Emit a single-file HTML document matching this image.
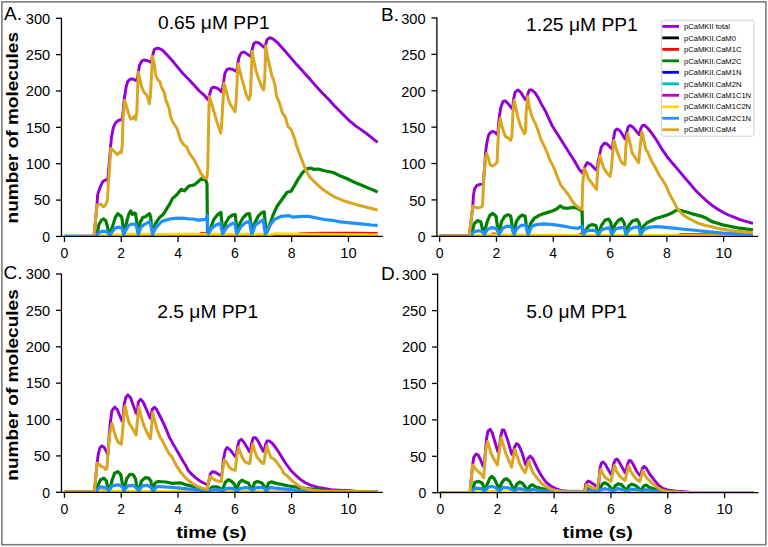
<!DOCTYPE html><html><head><meta charset="utf-8"><style>html,body{margin:0;padding:0;background:#fff;overflow:hidden;width:768px;height:547px;}svg{display:block;}text{font-family:"Liberation Sans",sans-serif;}</style></head><body>
<svg width="768" height="547" viewBox="0 0 768 547">
<rect x="0" y="0" width="768" height="547" fill="#fff"/>
<rect x="1.9" y="1.9" width="764.0" height="542.8" fill="none" stroke="#7c7c7c" stroke-width="1.6"/>
<clipPath id="clipA"><rect x="61.45" y="17.70" width="321.35" height="218.75"/></clipPath>
<g clip-path="url(#clipA)">
<polyline points="64.45,236.45 94.00,236.45 97.00,205.00 97.60,195.10 99.10,190.00 101.10,185.00 103.10,181.10 106.90,179.70 107.80,179.30 109.50,160.00 110.50,147.70 111.60,136.70 113.20,127.90 115.40,123.00 118.20,120.50 120.90,119.70 122.30,119.50 123.30,110.00 124.40,98.00 126.20,86.60 127.90,81.10 130.60,78.90 133.30,79.10 136.10,80.50 137.20,80.80 138.30,72.30 139.40,65.70 141.60,61.30 143.80,60.00 147.10,60.50 150.30,61.90 151.30,62.30 152.50,55.80 154.20,49.80 156.20,48.50 158.20,48.20 162.10,49.90 166.50,54.30 171.90,60.30 177.40,66.90 182.90,73.50 188.40,79.00 193.90,85.00 199.40,91.00 204.40,95.40 207.70,99.50 209.30,96.00 209.90,93.20 211.50,88.20 213.70,87.10 216.50,87.80 219.70,90.00 221.50,91.80 222.50,88.00 223.60,82.70 224.70,73.90 226.90,69.50 229.60,68.60 232.90,69.50 235.70,71.10 236.70,71.60 237.90,62.90 239.00,57.40 241.10,53.00 243.90,51.90 247.20,54.10 250.50,56.30 251.20,56.50 252.10,49.70 253.80,43.70 256.00,42.10 259.20,43.20 263.60,47.00 264.60,47.60 265.80,44.30 266.90,39.90 269.70,37.70 273.00,38.80 277.40,42.60 283.90,49.70 290.50,57.40 297.10,65.10 303.70,72.20 309.20,78.30 312.00,81.60 317.50,87.70 323.00,93.70 328.50,99.20 333.90,105.20 339.40,110.70 344.90,116.20 350.40,121.70 355.90,126.10 361.40,129.90 366.90,133.80 372.30,138.20 377.60,142.30" fill="none" stroke="#9400D3" stroke-width="2.9" stroke-linejoin="round" stroke-linecap="butt"/>
<polyline points="64.45,236.45 198.00,236.45 201.00,233.50 206.50,233.50 208.00,236.20 290.00,236.00 301.00,233.60 324.50,233.10 350.00,233.30 377.60,233.40" fill="none" stroke="#FF0000" stroke-width="2.9" stroke-linejoin="round" stroke-linecap="butt"/>
<polyline points="64.45,236.45 97.00,236.20 97.60,231.30 99.00,224.30 101.40,220.20 103.70,219.00 105.80,220.80 107.20,225.50 108.70,232.50 109.60,234.80 111.90,228.40 113.70,222.60 115.40,217.30 117.70,213.60 120.10,215.50 121.70,216.90 122.70,223.50 123.60,233.30 124.20,233.50 125.50,228.40 127.20,219.60 129.00,213.80 130.70,210.90 132.50,214.40 134.30,213.20 135.50,213.40 136.70,221.60 137.90,231.00 138.30,231.50 140.50,221.60 142.90,217.30 145.40,216.70 147.90,214.80 149.50,213.60 150.70,217.30 151.60,227.90 152.90,231.60 155.40,223.50 157.90,219.80 160.30,216.70 162.80,214.80 165.30,211.10 168.00,206.70 169.50,204.50 172.40,198.60 176.80,194.70 181.20,189.30 184.50,190.90 188.90,186.00 194.40,184.90 198.80,181.00 202.10,178.30 205.30,179.40 207.00,183.80 207.50,235.00 208.50,234.00 210.50,228.30 213.80,219.50 217.10,215.10 220.90,212.40 222.00,223.90 223.10,233.80 225.80,222.80 229.10,217.30 232.40,215.10 235.20,214.60 236.30,223.90 237.40,233.80 240.10,222.80 243.40,217.30 246.70,214.00 249.40,213.50 251.10,223.90 252.20,233.80 254.90,222.80 258.20,216.20 261.50,212.90 264.20,211.80 265.30,223.90 266.40,233.80 270.80,221.70 273.10,215.00 277.10,206.20 282.10,199.20 287.10,192.20 291.10,191.20 294.20,186.10 298.20,179.10 302.20,173.10 306.20,169.00 310.20,168.10 314.30,169.40 318.30,169.00 322.00,170.10 324.70,170.80 333.30,172.50 340.50,176.10 347.80,179.00 355.00,182.60 362.20,185.50 369.40,188.40 377.60,192.00" fill="none" stroke="#008000" stroke-width="3.2" stroke-linejoin="round" stroke-linecap="butt"/>
<polyline points="64.45,236.45 160.00,236.45 180.00,235.40 205.00,235.40 208.00,236.45 270.00,236.45 280.00,235.30 330.00,235.40 377.60,235.70" fill="none" stroke="#BF00BF" stroke-width="2.9" stroke-linejoin="round" stroke-linecap="butt"/>
<polyline points="64.45,236.45 97.00,236.45 100.00,235.30 106.00,235.30 108.50,236.40 111.00,235.00 121.00,235.00 123.50,236.40 126.00,234.30 136.00,234.30 138.00,236.00 141.00,234.30 151.00,234.30 153.00,236.00 156.00,234.50 180.00,234.20 206.00,234.20 208.00,236.00 211.00,234.30 221.00,234.30 223.00,236.00 226.00,234.30 236.00,234.30 238.00,236.00 241.00,234.30 251.00,234.30 253.00,236.00 256.00,234.30 266.00,234.30 268.00,236.00 274.50,233.60 308.90,234.10 340.00,234.40 377.60,234.70" fill="none" stroke="#FFD700" stroke-width="2.9" stroke-linejoin="round" stroke-linecap="butt"/>
<polyline points="64.45,236.45 96.50,236.45 97.30,234.30 99.00,232.50 102.50,231.30 106.00,231.30 108.40,233.10 110.10,234.80 112.50,231.30 115.40,227.80 119.50,227.20 121.40,227.80 122.60,229.60 123.70,234.50 126.10,229.60 128.40,225.50 131.30,224.30 135.40,224.00 136.80,227.90 138.30,234.70 140.50,227.90 143.60,224.80 147.30,222.90 149.50,221.60 151.00,225.40 152.60,234.70 154.80,229.10 157.90,225.40 161.70,221.50 165.60,220.20 170.30,218.80 175.00,218.40 181.25,218.10 185.20,218.40 189.10,219.00 193.75,219.00 198.40,220.10 203.10,219.70 206.25,218.90 207.20,215.50 207.30,220.00 208.30,233.80 211.60,228.30 216.00,225.00 220.40,223.30 222.60,233.80 226.90,227.20 231.30,223.90 234.60,222.80 236.80,233.80 241.20,226.10 245.60,222.80 249.40,221.10 251.60,233.80 255.50,225.00 259.90,221.70 263.20,220.00 265.30,233.80 269.70,225.50 274.50,219.50 280.80,216.40 288.60,215.60 293.30,217.20 301.10,216.40 308.90,216.40 316.70,218.00 324.50,219.50 332.30,220.30 340.10,221.90 347.90,222.70 355.80,223.40 363.60,224.20 371.40,225.00 377.60,225.30" fill="none" stroke="#1E90FF" stroke-width="3.2" stroke-linejoin="round" stroke-linecap="butt"/>
<polyline points="64.45,236.45 94.00,236.45 97.00,205.00 98.60,204.60 101.10,204.10 103.10,206.60 105.10,205.60 106.60,202.60 107.50,200.00 108.30,185.00 110.80,148.60 112.90,150.00 115.00,152.30 117.50,154.50 119.70,152.20 121.30,152.60 122.30,145.00 123.10,117.00 124.80,100.50 126.40,106.00 128.60,113.70 130.80,119.10 132.40,118.60 134.10,116.40 135.70,119.70 136.80,111.50 138.30,72.30 139.90,78.90 141.60,86.60 143.80,92.00 146.00,94.20 147.20,96.00 149.40,103.80 150.50,95.00 152.50,56.40 154.20,63.50 155.80,75.60 157.50,78.90 159.90,81.70 161.50,87.20 164.30,92.70 165.50,99.10 169.10,108.30 170.50,116.50 172.80,122.00 177.40,129.30 180.40,139.90 184.30,145.40 186.50,146.50 189.20,153.00 194.10,159.60 197.40,166.20 200.70,172.80 204.00,177.70 206.80,178.30 207.70,170.00 208.60,125.00 209.30,96.50 212.10,105.20 214.30,112.90 216.50,120.60 218.70,127.20 220.80,133.20 221.60,125.00 224.10,83.30 226.30,91.00 228.50,99.70 230.70,105.20 232.90,108.50 235.10,111.80 236.20,100.00 237.90,64.00 239.50,69.50 241.70,78.30 243.90,86.00 246.10,94.30 248.80,99.70 250.50,95.00 252.10,51.40 253.80,60.70 256.00,70.60 258.20,77.20 260.90,84.90 262.50,88.20 263.60,90.00 264.70,80.00 265.80,45.90 267.50,56.30 269.70,66.20 271.90,76.10 273.50,79.40 274.90,85.00 276.50,96.00 279.30,102.60 282.60,113.50 285.30,116.80 288.00,126.70 290.80,128.90 293.50,135.50 295.10,140.00 296.30,145.00 298.70,151.60 301.20,158.00 303.00,163.10 306.60,171.80 310.20,177.60 316.00,183.30 323.20,189.80 333.30,196.30 343.40,200.70 355.00,204.30 366.50,207.20 377.60,210.00" fill="none" stroke="#DAA520" stroke-width="3.0" stroke-linejoin="round" stroke-linecap="butt"/>
</g>
<path d="M61.45,17.70 V236.45 M60.85,236.45 H382.80" stroke="#000" stroke-width="1.3" fill="none"/>
<path d="M55.95,236.45 H61.45" stroke="#000" stroke-width="1.3"/>
<text x="50.15" y="241.75" font-family="Liberation Sans, sans-serif" font-size="14" text-anchor="end" fill="#000">0</text>
<path d="M55.95,200.09 H61.45" stroke="#000" stroke-width="1.3"/>
<text x="50.15" y="205.39" font-family="Liberation Sans, sans-serif" font-size="14" text-anchor="end" textLength="16.4" lengthAdjust="spacingAndGlyphs" fill="#000">50</text>
<path d="M55.95,163.73 H61.45" stroke="#000" stroke-width="1.3"/>
<text x="50.15" y="169.03" font-family="Liberation Sans, sans-serif" font-size="14" text-anchor="end" textLength="24.4" lengthAdjust="spacingAndGlyphs" fill="#000">100</text>
<path d="M55.95,127.37 H61.45" stroke="#000" stroke-width="1.3"/>
<text x="50.15" y="132.67" font-family="Liberation Sans, sans-serif" font-size="14" text-anchor="end" textLength="24.4" lengthAdjust="spacingAndGlyphs" fill="#000">150</text>
<path d="M55.95,91.01 H61.45" stroke="#000" stroke-width="1.3"/>
<text x="50.15" y="96.31" font-family="Liberation Sans, sans-serif" font-size="14" text-anchor="end" textLength="24.4" lengthAdjust="spacingAndGlyphs" fill="#000">200</text>
<path d="M55.95,54.65 H61.45" stroke="#000" stroke-width="1.3"/>
<text x="50.15" y="59.95" font-family="Liberation Sans, sans-serif" font-size="14" text-anchor="end" textLength="24.4" lengthAdjust="spacingAndGlyphs" fill="#000">250</text>
<path d="M55.95,18.29 H61.45" stroke="#000" stroke-width="1.3"/>
<text x="50.15" y="23.59" font-family="Liberation Sans, sans-serif" font-size="14" text-anchor="end" textLength="24.4" lengthAdjust="spacingAndGlyphs" fill="#000">300</text>
<path d="M64.45,236.45 V241.95" stroke="#000" stroke-width="1.3"/>
<text x="64.45" y="257.75" font-family="Liberation Sans, sans-serif" font-size="14" text-anchor="middle" fill="#000">0</text>
<path d="M121.25,236.45 V241.95" stroke="#000" stroke-width="1.3"/>
<text x="121.25" y="257.75" font-family="Liberation Sans, sans-serif" font-size="14" text-anchor="middle" fill="#000">2</text>
<path d="M178.05,236.45 V241.95" stroke="#000" stroke-width="1.3"/>
<text x="178.05" y="257.75" font-family="Liberation Sans, sans-serif" font-size="14" text-anchor="middle" fill="#000">4</text>
<path d="M234.85,236.45 V241.95" stroke="#000" stroke-width="1.3"/>
<text x="234.85" y="257.75" font-family="Liberation Sans, sans-serif" font-size="14" text-anchor="middle" fill="#000">6</text>
<path d="M291.65,236.45 V241.95" stroke="#000" stroke-width="1.3"/>
<text x="291.65" y="257.75" font-family="Liberation Sans, sans-serif" font-size="14" text-anchor="middle" fill="#000">8</text>
<path d="M348.45,236.45 V241.95" stroke="#000" stroke-width="1.3"/>
<text x="348.45" y="257.75" font-family="Liberation Sans, sans-serif" font-size="14" text-anchor="middle" textLength="16.4" lengthAdjust="spacingAndGlyphs" fill="#000">10</text>
<clipPath id="clipB"><rect x="436.90" y="17.40" width="321.40" height="218.90"/></clipPath>
<g clip-path="url(#clipB)">
<polyline points="439.65,236.30 469.20,236.30 472.80,206.00 473.40,195.40 474.60,188.80 476.80,185.50 480.10,184.40 482.30,184.40 483.30,184.00 484.80,165.00 485.60,152.40 486.70,143.70 488.30,136.00 489.30,133.80 491.10,132.10 492.10,131.50 494.60,132.10 497.00,134.30 497.80,134.50 499.20,117.30 500.80,107.40 503.00,101.40 505.20,100.80 508.50,104.10 511.80,108.50 512.60,109.00 513.50,99.70 515.10,92.10 517.90,89.90 520.60,92.10 523.30,96.50 525.50,99.70 526.30,100.00 527.70,94.30 529.40,89.90 531.60,89.90 534.90,92.60 538.20,97.60 541.40,104.10 545.80,111.80 551.90,125.20 557.40,134.00 562.90,142.80 568.40,151.60 573.90,160.00 579.50,169.70 582.80,173.20 585.00,166.50 587.20,162.60 590.50,164.30 593.80,167.60 596.50,170.30 597.30,170.00 598.20,161.00 600.20,152.00 601.30,147.10 604.10,143.30 606.80,143.80 609.60,146.60 611.80,148.80 612.50,148.00 613.40,139.40 615.00,130.70 617.20,129.00 620.00,130.70 622.70,135.00 624.90,138.90 625.80,138.00 626.60,132.80 628.20,126.80 630.40,125.40 633.10,127.40 636.40,131.20 639.20,134.50 639.90,134.00 640.80,128.50 642.50,125.40 644.70,125.40 648.00,128.50 652.30,133.90 656.70,140.50 661.90,149.10 668.30,158.30 673.80,164.70 679.30,171.10 684.80,177.80 690.00,183.80 695.50,190.40 701.00,195.80 706.50,200.80 711.90,205.20 717.40,209.00 722.90,212.30 728.40,215.00 733.90,217.20 739.40,219.40 744.90,221.10 753.00,223.40" fill="none" stroke="#9400D3" stroke-width="2.9" stroke-linejoin="round" stroke-linecap="butt"/>
<polyline points="439.65,236.30 490.00,236.30 492.70,234.00 495.00,234.00 497.00,236.30 578.00,236.30 580.00,234.50 582.00,234.50 583.00,236.30 675.00,236.30 680.00,234.80 700.00,234.70 753.00,235.30" fill="none" stroke="#FF0000" stroke-width="2.9" stroke-linejoin="round" stroke-linecap="butt"/>
<polyline points="439.65,236.30 471.50,236.30 472.40,231.60 474.10,223.90 477.40,220.60 480.70,221.70 482.30,228.30 483.90,233.80 487.20,221.70 490.00,215.10 492.70,213.50 496.00,216.20 497.70,228.30 498.80,233.80 501.50,221.70 504.80,216.20 508.10,214.60 510.80,216.20 512.50,228.30 513.60,233.80 516.30,221.70 519.10,217.30 522.30,215.10 525.10,216.20 526.70,228.30 527.80,233.50 530.50,223.80 534.10,218.30 538.70,215.60 543.30,213.80 547.90,212.40 552.40,211.00 557.00,208.70 560.20,206.00 563.40,207.80 568.00,208.30 572.50,207.40 576.20,207.80 579.80,209.70 582.10,211.00 582.60,233.90 585.30,232.00 585.90,230.10 588.60,226.00 592.30,224.60 595.90,225.50 597.80,232.80 598.70,234.60 601.40,225.50 605.10,220.10 608.70,219.10 611.00,222.80 611.90,233.70 615.10,224.60 618.70,220.10 621.50,218.70 624.20,222.80 626.00,233.70 628.80,225.50 632.40,221.00 637.00,219.60 639.20,222.80 640.60,233.70 643.30,226.40 647.00,222.80 650.60,221.00 655.60,218.50 660.80,217.00 666.00,215.40 671.30,213.30 676.50,210.20 679.60,210.20 683.80,211.30 689.00,212.80 694.20,214.40 701.00,216.10 706.50,218.30 711.90,221.60 717.40,223.30 722.90,224.90 728.40,226.00 733.90,227.10 739.40,228.20 744.90,228.80 753.00,229.90" fill="none" stroke="#008000" stroke-width="3.2" stroke-linejoin="round" stroke-linecap="butt"/>
<polyline points="439.65,236.30 753.00,236.30" fill="none" stroke="#BF00BF" stroke-width="2.9" stroke-linejoin="round" stroke-linecap="butt"/>
<polyline points="439.65,236.30 472.00,236.30 475.00,235.30 482.00,235.30 484.50,236.30 487.00,235.00 496.00,235.00 498.50,236.30 501.00,234.90 511.00,234.90 513.50,236.30 516.00,234.90 526.00,234.90 528.50,236.30 531.00,235.20 560.00,235.30 582.00,235.40 584.00,236.30 587.00,235.40 640.00,235.40 660.00,235.50 700.00,235.60 753.00,235.80" fill="none" stroke="#FFD700" stroke-width="2.9" stroke-linejoin="round" stroke-linecap="butt"/>
<polyline points="439.65,236.30 471.00,236.30 471.90,233.80 474.10,231.60 478.50,230.70 482.30,231.60 484.50,234.30 487.20,229.40 491.60,227.70 496.00,228.30 499.30,234.30 502.60,228.30 507.00,226.10 511.40,226.60 514.10,234.30 516.90,228.30 521.20,225.50 525.60,225.00 528.40,234.30 531.40,226.60 536.00,224.70 543.30,223.80 550.60,224.30 557.00,225.20 563.40,226.10 570.70,227.50 578.00,228.40 582.10,226.10 583.50,233.90 587.50,230.50 592.30,230.10 595.90,231.00 598.20,234.60 601.40,230.10 606.00,228.30 609.60,227.80 611.90,234.60 615.10,229.20 619.60,227.80 624.20,227.30 626.00,234.60 629.70,229.20 634.20,227.30 638.80,226.90 640.60,234.60 644.30,229.20 648.80,227.30 655.00,226.60 660.80,226.90 671.30,227.90 681.70,229.00 692.10,230.00 701.00,231.00 711.90,232.10 722.90,233.20 733.90,233.70 753.00,234.20" fill="none" stroke="#1E90FF" stroke-width="3.2" stroke-linejoin="round" stroke-linecap="butt"/>
<polyline points="439.65,236.30 469.20,236.30 472.80,206.00 474.10,206.90 477.40,208.00 480.10,207.40 482.30,206.30 482.90,200.00 483.90,174.40 485.60,157.90 486.70,153.50 488.30,157.90 490.00,164.50 492.20,166.10 494.90,164.50 497.10,162.30 497.70,146.90 498.80,128.30 500.30,118.20 501.90,126.10 503.90,132.70 505.90,137.10 508.10,137.80 510.60,140.50 511.90,136.00 512.90,112.90 514.20,100.30 516.20,109.60 518.40,119.50 520.60,126.10 522.80,130.50 524.40,133.80 525.60,131.60 526.10,112.90 527.70,96.50 529.40,107.40 531.30,115.00 533.80,120.60 536.00,125.00 538.00,130.50 541.00,139.50 544.30,146.10 547.60,153.80 549.90,159.90 554.30,168.70 557.60,177.40 560.80,185.10 565.20,190.60 568.50,195.00 571.80,200.50 575.10,204.90 579.50,208.20 582.00,209.50 582.80,182.90 584.40,168.70 586.10,171.90 588.30,178.50 591.60,182.90 594.90,187.30 596.50,189.50 597.60,171.90 599.80,155.50 601.40,161.00 603.60,167.60 606.90,173.00 610.00,176.30 611.20,170.00 613.90,140.50 616.10,148.20 618.30,154.80 620.50,160.30 622.70,163.60 624.90,164.70 626.00,144.90 627.70,133.40 629.90,142.70 632.00,152.60 634.80,157.00 637.00,160.30 638.60,162.50 640.30,144.90 641.90,131.70 644.10,141.60 645.80,149.30 648.00,152.60 651.20,160.30 655.60,168.00 659.10,174.80 662.80,180.30 666.30,186.30 669.20,193.50 673.30,200.80 676.50,207.10 679.60,211.30 683.80,215.40 689.00,218.50 694.20,221.30 698.80,223.30 705.40,225.50 711.90,226.80 717.40,228.20 722.90,229.30 733.90,231.00 744.90,232.10 753.00,232.60" fill="none" stroke="#DAA520" stroke-width="3.0" stroke-linejoin="round" stroke-linecap="butt"/>
</g>
<path d="M436.90,17.40 V236.30 M436.30,236.30 H758.30" stroke="#000" stroke-width="1.3" fill="none"/>
<path d="M431.40,236.30 H436.90" stroke="#000" stroke-width="1.3"/>
<text x="425.60" y="242.10" font-family="Liberation Sans, sans-serif" font-size="14" text-anchor="end" fill="#000">0</text>
<path d="M431.40,199.92 H436.90" stroke="#000" stroke-width="1.3"/>
<text x="425.60" y="205.72" font-family="Liberation Sans, sans-serif" font-size="14" text-anchor="end" textLength="16.4" lengthAdjust="spacingAndGlyphs" fill="#000">50</text>
<path d="M431.40,163.53 H436.90" stroke="#000" stroke-width="1.3"/>
<text x="425.60" y="169.33" font-family="Liberation Sans, sans-serif" font-size="14" text-anchor="end" textLength="24.4" lengthAdjust="spacingAndGlyphs" fill="#000">100</text>
<path d="M431.40,127.15 H436.90" stroke="#000" stroke-width="1.3"/>
<text x="425.60" y="132.95" font-family="Liberation Sans, sans-serif" font-size="14" text-anchor="end" textLength="24.4" lengthAdjust="spacingAndGlyphs" fill="#000">150</text>
<path d="M431.40,90.76 H436.90" stroke="#000" stroke-width="1.3"/>
<text x="425.60" y="96.56" font-family="Liberation Sans, sans-serif" font-size="14" text-anchor="end" textLength="24.4" lengthAdjust="spacingAndGlyphs" fill="#000">200</text>
<path d="M431.40,54.38 H436.90" stroke="#000" stroke-width="1.3"/>
<text x="425.60" y="60.17" font-family="Liberation Sans, sans-serif" font-size="14" text-anchor="end" textLength="24.4" lengthAdjust="spacingAndGlyphs" fill="#000">250</text>
<path d="M431.40,17.99 H436.90" stroke="#000" stroke-width="1.3"/>
<text x="425.60" y="23.79" font-family="Liberation Sans, sans-serif" font-size="14" text-anchor="end" textLength="24.4" lengthAdjust="spacingAndGlyphs" fill="#000">300</text>
<path d="M439.65,236.30 V241.80" stroke="#000" stroke-width="1.3"/>
<text x="439.65" y="257.60" font-family="Liberation Sans, sans-serif" font-size="14" text-anchor="middle" fill="#000">0</text>
<path d="M496.45,236.30 V241.80" stroke="#000" stroke-width="1.3"/>
<text x="496.45" y="257.60" font-family="Liberation Sans, sans-serif" font-size="14" text-anchor="middle" fill="#000">2</text>
<path d="M553.25,236.30 V241.80" stroke="#000" stroke-width="1.3"/>
<text x="553.25" y="257.60" font-family="Liberation Sans, sans-serif" font-size="14" text-anchor="middle" fill="#000">4</text>
<path d="M610.05,236.30 V241.80" stroke="#000" stroke-width="1.3"/>
<text x="610.05" y="257.60" font-family="Liberation Sans, sans-serif" font-size="14" text-anchor="middle" fill="#000">6</text>
<path d="M666.85,236.30 V241.80" stroke="#000" stroke-width="1.3"/>
<text x="666.85" y="257.60" font-family="Liberation Sans, sans-serif" font-size="14" text-anchor="middle" fill="#000">8</text>
<path d="M723.65,236.30 V241.80" stroke="#000" stroke-width="1.3"/>
<text x="723.65" y="257.60" font-family="Liberation Sans, sans-serif" font-size="14" text-anchor="middle" textLength="16.4" lengthAdjust="spacingAndGlyphs" fill="#000">10</text>
<clipPath id="clipC"><rect x="61.45" y="273.40" width="321.35" height="218.90"/></clipPath>
<g clip-path="url(#clipC)">
<polyline points="64.45,492.30 94.30,492.30 97.10,463.30 98.20,454.60 99.80,448.00 102.00,445.80 104.20,447.50 106.90,452.40 108.00,455.00 109.20,435.00 110.30,422.90 111.90,410.80 114.70,407.00 117.40,409.70 119.60,415.20 121.80,420.70 122.80,421.50 124.00,405.40 125.70,397.70 127.90,394.90 130.60,397.70 133.30,405.40 136.10,413.00 137.00,414.00 138.30,402.10 140.50,399.30 143.20,402.10 146.50,409.70 149.80,417.40 150.80,418.50 152.20,409.40 154.40,407.20 156.60,409.40 159.90,416.00 163.20,422.60 166.50,430.20 169.70,437.90 174.10,445.60 178.50,453.30 182.90,461.00 186.10,466.00 188.10,470.20 192.10,474.70 196.10,478.20 200.20,481.20 204.20,483.30 207.20,484.80 208.50,484.00 210.20,474.20 212.20,471.70 215.30,472.20 218.30,474.20 221.30,475.70 222.30,472.00 223.30,460.10 225.30,450.10 227.30,447.50 230.40,450.10 233.40,454.10 235.60,456.80 236.50,455.00 237.50,447.00 239.10,440.90 241.30,439.30 244.10,442.60 246.80,447.00 249.60,451.90 250.60,450.00 251.70,442.60 253.40,437.60 255.60,437.60 258.30,441.50 261.10,447.00 263.30,451.30 264.40,450.00 265.50,444.80 267.10,440.90 269.30,440.90 272.60,443.70 275.90,448.00 279.20,453.00 282.60,458.50 285.80,463.50 290.90,470.50 295.50,475.00 300.10,479.10 304.60,482.30 309.20,484.60 314.60,486.40 320.10,487.80 325.60,488.70 331.00,489.60 338.30,490.10 350.00,490.80 360.00,491.60 377.60,492.10" fill="none" stroke="#9400D3" stroke-width="2.9" stroke-linejoin="round" stroke-linecap="butt"/>
<polyline points="64.45,492.30 100.00,492.30 102.00,491.00 106.00,491.00 108.00,492.30 377.60,492.30" fill="none" stroke="#FF0000" stroke-width="2.9" stroke-linejoin="round" stroke-linecap="butt"/>
<polyline points="64.45,492.30 96.50,492.30 97.60,486.40 100.40,479.80 103.70,478.10 106.40,480.90 108.00,488.60 109.70,490.80 111.90,480.90 114.60,473.20 117.90,471.60 120.70,474.30 122.30,483.10 124.00,489.70 126.70,478.70 130.00,474.30 133.30,474.90 135.50,478.70 137.10,488.60 138.80,490.80 141.50,480.90 145.30,477.60 148.60,478.10 150.80,480.90 152.50,489.70 155.00,483.10 158.00,481.50 166.00,482.00 172.00,483.30 180.00,482.80 186.10,484.80 192.10,486.30 198.20,488.30 204.20,489.80 208.20,490.80 212.20,486.80 216.30,486.80 220.30,488.30 222.30,490.30 225.30,482.30 228.30,479.70 231.40,481.20 234.40,484.30 236.40,489.30 239.40,482.30 242.00,480.20 244.20,481.40 248.30,482.90 250.40,487.10 252.00,490.20 254.60,482.40 257.70,481.40 261.90,482.90 264.50,487.10 266.00,490.20 268.60,482.90 271.30,481.90 276.50,483.40 280.00,484.10 289.10,486.00 298.20,487.30 307.30,488.70 316.50,489.60 330.00,490.80 350.00,491.80 377.60,492.20" fill="none" stroke="#008000" stroke-width="3.2" stroke-linejoin="round" stroke-linecap="butt"/>
<polyline points="64.45,492.30 97.00,492.30 100.00,491.30 107.00,491.30 109.00,492.30 112.00,491.10 122.00,491.10 124.00,492.30 127.00,491.10 137.00,491.10 139.00,492.30 142.00,491.10 151.00,491.10 153.00,492.30 156.00,491.40 200.00,491.80 377.60,492.30" fill="none" stroke="#FFD700" stroke-width="2.9" stroke-linejoin="round" stroke-linecap="butt"/>
<polyline points="64.45,492.30 96.50,492.30 97.10,489.70 100.40,486.90 105.80,487.50 108.60,490.80 112.40,485.80 117.90,484.70 122.30,486.40 124.00,490.80 127.80,485.80 133.30,485.30 137.10,488.60 138.80,490.80 142.10,485.80 147.50,485.30 151.40,487.50 153.00,491.30 157.00,486.50 172.00,487.30 182.10,488.30 192.10,489.30 202.20,490.30 208.20,490.80 212.20,489.80 220.30,489.80 222.50,491.20 226.30,488.30 232.40,488.30 235.00,489.50 236.60,491.20 240.40,488.30 246.30,487.60 250.40,488.60 252.50,490.70 255.60,487.60 262.90,487.60 264.50,488.60 266.20,490.70 270.20,487.60 280.00,488.70 289.10,489.40 298.20,490.50 307.30,491.40 330.00,491.90 377.60,492.20" fill="none" stroke="#1E90FF" stroke-width="3.2" stroke-linejoin="round" stroke-linecap="butt"/>
<polyline points="64.45,492.30 94.30,492.30 97.10,463.30 99.30,464.40 101.50,466.60 103.70,467.20 105.30,469.40 106.90,468.80 108.00,453.50 109.50,435.00 111.90,423.50 113.60,429.50 115.80,437.20 118.50,442.50 121.30,444.30 122.40,433.90 124.00,411.90 125.10,405.90 126.80,414.10 129.00,422.90 131.70,427.30 134.40,431.70 136.10,435.00 137.20,422.90 138.80,407.00 141.00,416.30 143.80,425.10 147.10,432.80 150.30,438.80 151.40,428.40 152.70,412.70 154.40,419.30 156.60,428.00 159.90,436.80 163.20,442.30 166.50,448.90 169.70,454.40 172.00,456.80 176.00,465.20 180.00,471.20 184.10,476.20 188.10,480.20 192.10,483.30 196.10,485.80 200.20,487.30 204.20,488.80 207.20,489.30 208.80,480.00 210.20,476.20 212.20,478.20 215.30,480.20 218.30,481.20 221.30,481.70 222.60,470.00 224.30,460.10 226.30,462.10 229.30,467.20 232.20,469.50 235.30,470.20 236.90,455.70 238.60,447.50 240.20,452.40 242.40,457.90 245.20,461.80 248.50,463.40 249.80,463.60 251.20,452.40 252.80,444.20 254.50,450.20 256.70,456.30 259.40,460.10 262.70,463.40 263.80,463.40 265.50,452.40 266.90,445.80 268.80,452.40 271.00,457.40 273.10,458.50 275.90,461.20 279.20,465.60 282.00,469.50 283.60,473.20 287.30,475.90 290.90,479.60 294.60,482.80 298.20,485.50 302.80,487.80 307.30,489.20 312.80,490.30 321.00,491.00 350.00,491.40 377.60,491.80" fill="none" stroke="#DAA520" stroke-width="3.0" stroke-linejoin="round" stroke-linecap="butt"/>
</g>
<path d="M61.45,273.40 V492.30 M60.85,492.30 H382.80" stroke="#000" stroke-width="1.3" fill="none"/>
<path d="M55.95,492.30 H61.45" stroke="#000" stroke-width="1.3"/>
<text x="50.15" y="497.60" font-family="Liberation Sans, sans-serif" font-size="14" text-anchor="end" fill="#000">0</text>
<path d="M55.95,455.92 H61.45" stroke="#000" stroke-width="1.3"/>
<text x="50.15" y="461.22" font-family="Liberation Sans, sans-serif" font-size="14" text-anchor="end" textLength="16.4" lengthAdjust="spacingAndGlyphs" fill="#000">50</text>
<path d="M55.95,419.53 H61.45" stroke="#000" stroke-width="1.3"/>
<text x="50.15" y="424.83" font-family="Liberation Sans, sans-serif" font-size="14" text-anchor="end" textLength="24.4" lengthAdjust="spacingAndGlyphs" fill="#000">100</text>
<path d="M55.95,383.14 H61.45" stroke="#000" stroke-width="1.3"/>
<text x="50.15" y="388.44" font-family="Liberation Sans, sans-serif" font-size="14" text-anchor="end" textLength="24.4" lengthAdjust="spacingAndGlyphs" fill="#000">150</text>
<path d="M55.95,346.76 H61.45" stroke="#000" stroke-width="1.3"/>
<text x="50.15" y="352.06" font-family="Liberation Sans, sans-serif" font-size="14" text-anchor="end" textLength="24.4" lengthAdjust="spacingAndGlyphs" fill="#000">200</text>
<path d="M55.95,310.38 H61.45" stroke="#000" stroke-width="1.3"/>
<text x="50.15" y="315.68" font-family="Liberation Sans, sans-serif" font-size="14" text-anchor="end" textLength="24.4" lengthAdjust="spacingAndGlyphs" fill="#000">250</text>
<path d="M55.95,273.99 H61.45" stroke="#000" stroke-width="1.3"/>
<text x="50.15" y="279.29" font-family="Liberation Sans, sans-serif" font-size="14" text-anchor="end" textLength="24.4" lengthAdjust="spacingAndGlyphs" fill="#000">300</text>
<path d="M64.45,492.30 V497.80" stroke="#000" stroke-width="1.3"/>
<text x="64.45" y="513.60" font-family="Liberation Sans, sans-serif" font-size="14" text-anchor="middle" fill="#000">0</text>
<path d="M121.25,492.30 V497.80" stroke="#000" stroke-width="1.3"/>
<text x="121.25" y="513.60" font-family="Liberation Sans, sans-serif" font-size="14" text-anchor="middle" fill="#000">2</text>
<path d="M178.05,492.30 V497.80" stroke="#000" stroke-width="1.3"/>
<text x="178.05" y="513.60" font-family="Liberation Sans, sans-serif" font-size="14" text-anchor="middle" fill="#000">4</text>
<path d="M234.85,492.30 V497.80" stroke="#000" stroke-width="1.3"/>
<text x="234.85" y="513.60" font-family="Liberation Sans, sans-serif" font-size="14" text-anchor="middle" fill="#000">6</text>
<path d="M291.65,492.30 V497.80" stroke="#000" stroke-width="1.3"/>
<text x="291.65" y="513.60" font-family="Liberation Sans, sans-serif" font-size="14" text-anchor="middle" fill="#000">8</text>
<path d="M348.45,492.30 V497.80" stroke="#000" stroke-width="1.3"/>
<text x="348.45" y="513.60" font-family="Liberation Sans, sans-serif" font-size="14" text-anchor="middle" textLength="16.4" lengthAdjust="spacingAndGlyphs" fill="#000">10</text>
<clipPath id="clipD"><rect x="437.60" y="273.60" width="320.90" height="219.10"/></clipPath>
<g clip-path="url(#clipD)">
<polyline points="440.50,492.70 470.00,492.70 472.70,463.90 473.80,457.30 476.00,454.00 478.20,455.10 480.40,459.50 483.10,466.10 484.20,467.00 485.50,450.00 486.40,439.70 488.00,431.00 490.20,429.30 492.40,433.20 495.20,443.00 497.90,451.80 498.90,452.50 500.70,436.50 502.30,429.90 504.00,429.90 506.10,435.40 508.90,444.10 511.60,454.00 512.70,455.00 514.40,447.40 516.60,443.60 518.80,445.20 522.10,452.90 525.30,463.90 526.30,465.00 528.10,458.20 530.20,456.10 532.80,458.80 535.40,464.30 538.50,470.80 541.70,476.20 545.80,482.00 551.00,486.20 556.30,488.80 561.50,490.60 566.70,491.50 571.90,491.90 584.40,492.00 585.90,483.80 588.00,481.10 590.60,482.20 593.60,484.20 596.80,486.50 598.50,486.00 600.00,468.20 601.40,463.20 603.20,461.90 605.50,464.60 608.20,469.60 611.00,474.20 612.30,473.00 613.70,463.70 615.50,459.60 617.30,459.10 619.60,462.80 622.40,467.80 625.10,472.80 626.20,471.00 627.40,464.60 629.20,460.50 631.00,460.90 633.30,464.60 636.50,471.00 639.70,475.50 641.00,474.00 642.40,468.20 644.20,466.40 646.50,468.60 649.30,473.50 653.70,479.30 658.20,484.80 662.80,488.30 667.30,489.90 676.50,491.30 690.00,492.20 754.00,492.70" fill="none" stroke="#9400D3" stroke-width="2.9" stroke-linejoin="round" stroke-linecap="butt"/>
<polyline points="440.50,492.70 488.00,492.70 490.00,491.60 495.00,491.60 497.00,492.70 754.00,492.70" fill="none" stroke="#FF0000" stroke-width="2.9" stroke-linejoin="round" stroke-linecap="butt"/>
<polyline points="440.50,492.70 472.50,492.70 473.20,486.90 475.00,482.30 478.70,481.40 482.30,483.20 484.60,489.60 486.90,485.10 489.60,478.70 491.90,476.40 494.20,478.70 496.90,484.10 499.20,489.20 501.50,483.20 504.20,479.60 506.50,478.70 509.70,481.40 512.40,486.90 514.20,489.60 517.00,484.10 519.70,481.90 522.40,483.20 525.20,486.90 527.60,490.00 530.20,485.80 532.80,484.80 535.40,486.90 540.60,488.40 545.80,489.50 551.00,490.50 556.30,491.00 570.00,491.60 585.00,491.60 586.50,489.00 589.60,487.90 595.00,489.00 598.50,489.70 600.00,488.30 602.80,483.70 605.00,482.80 608.20,484.60 611.00,488.30 612.80,490.60 615.50,485.60 618.30,483.70 621.40,484.60 624.60,488.30 626.50,490.60 629.20,485.60 631.90,484.20 635.60,485.60 639.20,488.70 641.00,490.60 643.80,486.00 646.50,485.10 649.10,487.30 653.70,488.70 658.20,489.60 662.80,490.50 670.00,491.60 680.00,492.40 754.00,492.70" fill="none" stroke="#008000" stroke-width="3.2" stroke-linejoin="round" stroke-linecap="butt"/>
<polyline points="440.50,492.70 473.00,492.70 476.00,491.80 483.00,491.80 485.00,492.70 488.00,491.60 498.00,491.60 500.00,492.70 503.00,491.60 513.00,491.60 515.00,492.70 518.00,491.70 527.00,491.70 529.00,492.70 532.00,492.00 560.00,492.40 754.00,492.70" fill="none" stroke="#FFD700" stroke-width="2.9" stroke-linejoin="round" stroke-linecap="butt"/>
<polyline points="440.50,492.70 471.50,492.70 472.30,490.50 475.90,488.20 481.40,488.70 484.60,491.20 488.70,486.90 492.30,486.40 496.00,487.80 499.00,491.20 503.30,487.30 507.80,487.80 511.50,489.20 514.20,491.20 517.90,488.70 523.30,489.20 527.90,491.20 532.50,489.20 535.40,490.00 545.80,491.00 584.00,491.60 587.50,490.00 596.00,490.50 598.80,491.50 600.90,489.70 604.60,488.70 611.00,490.00 612.80,491.50 617.30,488.70 624.60,490.00 626.50,491.50 631.00,489.20 639.20,490.00 641.00,491.50 645.60,489.70 653.80,491.00 665.00,492.00 680.00,492.60 754.00,492.70" fill="none" stroke="#1E90FF" stroke-width="3.2" stroke-linejoin="round" stroke-linecap="butt"/>
<polyline points="440.50,492.70 470.00,492.70 472.50,465.00 474.10,466.80 475.40,468.80 478.50,472.00 480.90,473.80 482.50,475.50 483.70,477.80 484.60,466.00 485.30,452.90 487.50,441.40 489.10,446.30 491.30,454.00 494.10,459.50 497.40,465.00 499.00,452.90 501.20,438.10 503.40,445.20 505.60,452.90 508.90,460.60 511.60,467.20 513.30,457.30 514.90,449.60 517.10,456.20 519.90,463.90 522.60,469.40 525.30,472.70 527.00,466.10 528.80,460.70 530.70,467.10 532.80,472.30 535.40,475.80 538.50,479.80 541.70,483.50 545.80,486.70 551.00,489.10 556.30,490.60 561.50,491.40 566.70,491.80 584.90,491.90 586.50,484.80 588.50,485.80 591.70,487.40 593.60,488.30 597.30,488.70 599.10,477.30 600.90,469.60 602.80,473.70 605.00,477.30 607.80,479.20 611.00,481.40 612.80,472.80 614.60,465.50 616.40,471.00 619.20,475.50 621.90,478.30 625.10,480.50 626.90,472.80 628.70,466.00 630.60,471.00 633.30,475.50 636.50,479.20 639.70,481.40 641.50,475.50 642.90,470.50 644.70,474.60 647.00,478.30 650.20,481.20 653.70,484.60 658.20,488.20 662.80,490.50 667.30,491.50 680.00,492.20 754.00,492.50" fill="none" stroke="#DAA520" stroke-width="3.0" stroke-linejoin="round" stroke-linecap="butt"/>
</g>
<path d="M437.60,273.60 V492.70 M437.00,492.70 H758.50" stroke="#000" stroke-width="1.3" fill="none"/>
<path d="M432.10,492.70 H437.60" stroke="#000" stroke-width="1.3"/>
<text x="426.30" y="498.00" font-family="Liberation Sans, sans-serif" font-size="14" text-anchor="end" fill="#000">0</text>
<path d="M432.10,456.29 H437.60" stroke="#000" stroke-width="1.3"/>
<text x="426.30" y="461.59" font-family="Liberation Sans, sans-serif" font-size="14" text-anchor="end" textLength="16.4" lengthAdjust="spacingAndGlyphs" fill="#000">50</text>
<path d="M432.10,419.88 H437.60" stroke="#000" stroke-width="1.3"/>
<text x="426.30" y="425.18" font-family="Liberation Sans, sans-serif" font-size="14" text-anchor="end" textLength="24.4" lengthAdjust="spacingAndGlyphs" fill="#000">100</text>
<path d="M432.10,383.47 H437.60" stroke="#000" stroke-width="1.3"/>
<text x="426.30" y="388.77" font-family="Liberation Sans, sans-serif" font-size="14" text-anchor="end" textLength="24.4" lengthAdjust="spacingAndGlyphs" fill="#000">150</text>
<path d="M432.10,347.06 H437.60" stroke="#000" stroke-width="1.3"/>
<text x="426.30" y="352.36" font-family="Liberation Sans, sans-serif" font-size="14" text-anchor="end" textLength="24.4" lengthAdjust="spacingAndGlyphs" fill="#000">200</text>
<path d="M432.10,310.65 H437.60" stroke="#000" stroke-width="1.3"/>
<text x="426.30" y="315.95" font-family="Liberation Sans, sans-serif" font-size="14" text-anchor="end" textLength="24.4" lengthAdjust="spacingAndGlyphs" fill="#000">250</text>
<path d="M432.10,274.24 H437.60" stroke="#000" stroke-width="1.3"/>
<text x="426.30" y="279.54" font-family="Liberation Sans, sans-serif" font-size="14" text-anchor="end" textLength="24.4" lengthAdjust="spacingAndGlyphs" fill="#000">300</text>
<path d="M440.50,492.70 V498.20" stroke="#000" stroke-width="1.3"/>
<text x="440.50" y="514.00" font-family="Liberation Sans, sans-serif" font-size="14" text-anchor="middle" fill="#000">0</text>
<path d="M497.32,492.70 V498.20" stroke="#000" stroke-width="1.3"/>
<text x="497.32" y="514.00" font-family="Liberation Sans, sans-serif" font-size="14" text-anchor="middle" fill="#000">2</text>
<path d="M554.14,492.70 V498.20" stroke="#000" stroke-width="1.3"/>
<text x="554.14" y="514.00" font-family="Liberation Sans, sans-serif" font-size="14" text-anchor="middle" fill="#000">4</text>
<path d="M610.96,492.70 V498.20" stroke="#000" stroke-width="1.3"/>
<text x="610.96" y="514.00" font-family="Liberation Sans, sans-serif" font-size="14" text-anchor="middle" fill="#000">6</text>
<path d="M667.78,492.70 V498.20" stroke="#000" stroke-width="1.3"/>
<text x="667.78" y="514.00" font-family="Liberation Sans, sans-serif" font-size="14" text-anchor="middle" fill="#000">8</text>
<path d="M724.60,492.70 V498.20" stroke="#000" stroke-width="1.3"/>
<text x="724.60" y="514.00" font-family="Liberation Sans, sans-serif" font-size="14" text-anchor="middle" textLength="16.4" lengthAdjust="spacingAndGlyphs" fill="#000">10</text>
<text x="158.0" y="29.3" font-family="Liberation Sans, sans-serif" font-size="19.25" fill="#000">0.65 μM PP1</text>
<text x="526.1" y="30.9" font-family="Liberation Sans, sans-serif" font-size="19.25" fill="#000">1.25 μM PP1</text>
<text x="157.2" y="318.0" font-family="Liberation Sans, sans-serif" font-size="19.25" fill="#000">2.5 μM PP1</text>
<text x="526.3" y="318.0" font-family="Liberation Sans, sans-serif" font-size="19.25" fill="#000">5.0 μM PP1</text>
<text x="4.1" y="20.0" font-family="Liberation Sans, sans-serif" font-size="19" fill="#000">A.</text>
<text x="381.0" y="20.8" font-family="Liberation Sans, sans-serif" font-size="19" fill="#000">B.</text>
<text x="3.6" y="278.9" font-family="Liberation Sans, sans-serif" font-size="19" fill="#000">C.</text>
<text x="381.0" y="279.9" font-family="Liberation Sans, sans-serif" font-size="19" fill="#000">D.</text>
<text transform="translate(18.1,127.7) rotate(-90)" x="0" y="0" font-family="Liberation Sans, sans-serif" font-size="16.5" font-weight="bold" text-anchor="middle" textLength="191.5" lengthAdjust="spacingAndGlyphs" fill="#000">number of molecules</text>
<text transform="translate(18.1,385.0) rotate(-90)" x="0" y="0" font-family="Liberation Sans, sans-serif" font-size="16.5" font-weight="bold" text-anchor="middle" textLength="191.5" lengthAdjust="spacingAndGlyphs" fill="#000">number of molecules</text>
<text x="176.2" y="537.7" font-family="Liberation Sans, sans-serif" font-size="16.5" font-weight="bold" textLength="70.3" lengthAdjust="spacingAndGlyphs" fill="#000">time (s)</text>
<text x="562.6" y="538.4" font-family="Liberation Sans, sans-serif" font-size="16.5" font-weight="bold" textLength="70.3" lengthAdjust="spacingAndGlyphs" fill="#000">time (s)</text>
<rect x="661.4" y="20.3" width="92.6" height="115.9" rx="2" ry="2" fill="#fff" fill-opacity="0.8" stroke="#d0d0d0" stroke-width="1"/>
<path d="M662.3,26.40 H679" stroke="#9400D3" stroke-width="2.8"/>
<text x="684" y="29.10" font-family="Liberation Sans, sans-serif" font-size="7.6" fill="#000">pCaMKII total</text>
<path d="M662.3,37.88 H679" stroke="#000000" stroke-width="2.8"/>
<text x="684" y="40.58" font-family="Liberation Sans, sans-serif" font-size="7.6" fill="#000">pCaMKII.CaM0</text>
<path d="M662.3,49.36 H679" stroke="#FF0000" stroke-width="2.8"/>
<text x="684" y="52.06" font-family="Liberation Sans, sans-serif" font-size="7.6" fill="#000">pCaMKII.CaM1C</text>
<path d="M662.3,60.84 H679" stroke="#008000" stroke-width="2.8"/>
<text x="684" y="63.54" font-family="Liberation Sans, sans-serif" font-size="7.6" fill="#000">pCaMKII.CaM2C</text>
<path d="M662.3,72.32 H679" stroke="#0000FF" stroke-width="2.8"/>
<text x="684" y="75.02" font-family="Liberation Sans, sans-serif" font-size="7.6" fill="#000">pCaMKII.CaM1N</text>
<path d="M662.3,83.80 H679" stroke="#00BFBF" stroke-width="2.8"/>
<text x="684" y="86.50" font-family="Liberation Sans, sans-serif" font-size="7.6" fill="#000">pCaMKII.CaM2N</text>
<path d="M662.3,95.28 H679" stroke="#BF00BF" stroke-width="2.8"/>
<text x="684" y="97.98" font-family="Liberation Sans, sans-serif" font-size="7.6" fill="#000">pCaMKII.CaM1C1N</text>
<path d="M662.3,106.76 H679" stroke="#FFD700" stroke-width="2.8"/>
<text x="684" y="109.46" font-family="Liberation Sans, sans-serif" font-size="7.6" fill="#000">pCaMKII.CaM1C2N</text>
<path d="M662.3,118.24 H679" stroke="#1E90FF" stroke-width="2.8"/>
<text x="684" y="120.94" font-family="Liberation Sans, sans-serif" font-size="7.6" fill="#000">pCaMKII.CaM2C1N</text>
<path d="M662.3,129.72 H679" stroke="#DAA520" stroke-width="2.8"/>
<text x="684" y="132.42" font-family="Liberation Sans, sans-serif" font-size="7.6" fill="#000">pCaMKII.CaM4</text>
</svg></body></html>
